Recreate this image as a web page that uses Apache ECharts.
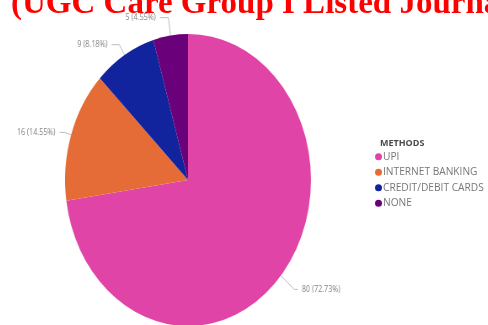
<!DOCTYPE html>
<html>
<head>
<meta charset="utf-8">
<script src="https://cdn.jsdelivr.net/npm/echarts@6/dist/echarts.min.js"></script>
<style>
  html, body { margin: 0; padding: 0; background: #ffffff; }
  #stage { position: relative; width: 488px; height: 325px; overflow: hidden; }
  #pie { position: absolute; left: -80px; top: 0; width: 620px; height: 325px;
         transform: scaleX(0.842); transform-origin: 268px 0; }
  #frame { position: absolute; left: 0; top: 0; width: 488px; height: 325px; }
</style>
</head>
<body>
<div id="stage">
  <div id="pie"></div>
  <div id="frame"></div>
</div>
<script>
// Payment methods used by respondents
const methods = ['UPI', 'INTERNET BANKING', 'CREDIT/DEBIT CARDS', 'NONE'];
const counts = [80, 16, 9, 5];
const colours = ['#E044A7', '#E66C37', '#12239E', '#6B007B'];
const headerText = '(UGC Care Group I Listed Journal)';
const legendTitle = 'METHODS';

// leader line lengths per slice: [radial, horizontal]
const leaders = [[21, 4], [8, 6], [12, 9], [18, 10]];

const total = counts.reduce((a, b) => a + b, 0);
const slices = methods.map((name, i) => ({
  name: name,
  value: counts[i],
  itemStyle: { color: colours[i] },
  labelLine: { length: leaders[i][0], length2: leaders[i][1] }
}));

// Pie drawn in its own layer, squeezed horizontally into an ellipse
const pieChart = echarts.init(document.getElementById('pie'), null, { renderer: 'canvas' });
pieChart.setOption({
  animation: false,
  series: [{
    type: 'pie',
    center: [268, 180],
    radius: 146,
    startAngle: 90,
    clockwise: true,
    avoidLabelOverlap: false,
    data: slices,
    itemStyle: { borderWidth: 0 },
    label: {
      show: true,
      color: '#808080',
      fontSize: 8.5,
      fontFamily: 'Open Sans',
      formatter: p => p.value + ' (' + (p.value / total * 100).toFixed(2) + '%)'
    },
    labelLine: {
      show: true,
      lineStyle: { color: '#bcbcbc', width: 1 }
    }
  }]
});

// Header text and legend on an undistorted layer
const frameChart = echarts.init(document.getElementById('frame'), null, { renderer: 'canvas' });
frameChart.setOption({
  animation: false,
  backgroundColor: 'transparent',
  title: [{
    text: headerText,
    left: 6,
    top: -17,
    textStyle: {
      color: '#ff0000',
      fontFamily: 'Liberation Serif',
      fontWeight: 'bold',
      fontSize: 33,
      lineHeight: 33
    }
  }, {
    text: legendTitle,
    left: 375,
    top: 132,
    textStyle: {
      color: '#4a4a4a',
      fontFamily: 'Open Sans',
      fontWeight: 'bold',
      fontSize: 9,
      lineHeight: 12
    }
  }],
  legend: {
    orient: 'vertical',
    left: 370,
    top: 146,
    icon: 'circle',
    itemWidth: 7,
    itemHeight: 7,
    itemGap: 4,
    selectedMode: false,
    data: methods,
    textStyle: {
      color: '#777777',
      fontFamily: 'Open Sans',
      fontSize: 10.2,
      lineHeight: 11.5,
      padding: [0, 0, 0, -4]
    }
  },
  series: [{
    type: 'pie',
    radius: 0,
    silent: true,
    label: { show: false },
    labelLine: { show: false },
    data: methods.map((name, i) => ({ name: name, value: counts[i], itemStyle: { color: colours[i] } }))
  }]
});
</script>
</body>
</html>
